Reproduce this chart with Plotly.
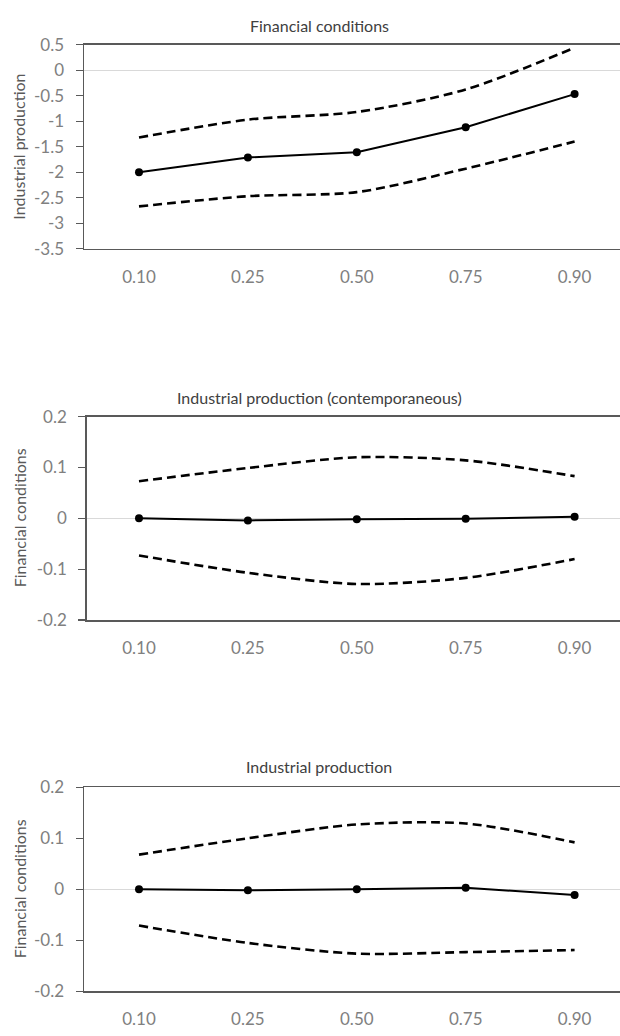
import plotly.graph_objects as go

W, H = 620, 1036

quantiles = ["0.10", "0.25", "0.50", "0.75", "0.90"]

# Panel 1: response of Industrial production to Financial conditions
p1_title = "Financial conditions"
p1_ylabel = "Industrial production"
p1_mid = [-2.00, -1.71, -1.61, -1.12, -0.47]
p1_upper = [-1.32, -0.97, -0.82, -0.38, 0.44]
p1_lower = [-2.67, -2.47, -2.39, -1.93, -1.40]
p1_ticks = [0.5, 0, -0.5, -1, -1.5, -2, -2.5, -3, -3.5]
p1_ticktext = ["0.5", "0", "-0.5", "-1", "-1.5", "-2", "-2.5", "-3", "-3.5"]

# Panel 2
p2_title = "Industrial production (contemporaneous)"
p2_ylabel = "Financial conditions"
p2_mid = [0.000, -0.004, -0.002, -0.001, 0.003]
p2_upper = [0.073, 0.099, 0.120, 0.114, 0.083]
p2_lower = [-0.073, -0.107, -0.129, -0.117, -0.080]

# Panel 3
p3_title = "Industrial production"
p3_ylabel = "Financial conditions"
p3_mid = [0.000, -0.002, 0.000, 0.003, -0.011]
p3_upper = [0.068, 0.100, 0.127, 0.129, 0.092]
p3_lower = [-0.071, -0.105, -0.126, -0.123, -0.119]

small_ticks = [0.2, 0.1, 0, -0.1, -0.2]
small_ticktext = ["0.2", "0.1", "0", "-0.1", "-0.2"]

FONT = "Lato"
AXIS_COL = "#595959"
TICK_COL = "#808080"

# panel geometry in pixels: left, top, bottom, title y
panels = [
    dict(left=84, top=34.3, bottom=242.7, ty=15, mid=p1_mid, up=p1_upper, lo=p1_lower,
         title=p1_title, ylab=p1_ylabel, yr=[-3.5, 0.5], tv=p1_ticks, tt=p1_ticktext),
    dict(left=86.7, top=414, bottom=621.7, ty=395, mid=p2_mid, up=p2_upper, lo=p2_lower,
         title=p2_title, ylab=p2_ylabel, yr=[-0.2, 0.2], tv=small_ticks, tt=small_ticktext),
    dict(left=84, top=792.3, bottom=1000.7, ty=771, mid=p3_mid, up=p3_upper, lo=p3_lower,
         title=p3_title, ylab=p3_ylabel, yr=[-0.2, 0.2], tv=small_ticks, tt=small_ticktext),
]

first_cat_px = 139
spacing = 108.9

fig = go.Figure()
layout = dict(
    width=W, height=H, margin=dict(l=0, r=0, t=0, b=0),
    paper_bgcolor="white", plot_bgcolor="white", showlegend=False,
    font=dict(family=FONT), annotations=[], hovermode=False,
)

for i, p in enumerate(panels, start=1):
    xa = "x" if i == 1 else f"x{i}"
    ya = "y" if i == 1 else f"y{i}"
    for vals in (p["up"], p["lo"]):
        fig.add_trace(go.Scatter(
            x=quantiles, y=vals, xaxis=xa, yaxis=ya, mode="lines",
            line=dict(color="black", width=2.6, dash="9px,5px", shape="spline", smoothing=0.8),
            hoverinfo="skip"))
    fig.add_trace(go.Scatter(
        x=quantiles, y=p["mid"], xaxis=xa, yaxis=ya, mode="lines+markers",
        line=dict(color="black", width=2),
        marker=dict(color="black", size=8)))

    x0 = (p["left"] - first_cat_px) / spacing
    x1 = (W - first_cat_px) / spacing
    xkey = "xaxis" if i == 1 else f"xaxis{i}"
    ykey = "yaxis" if i == 1 else f"yaxis{i}"
    layout[xkey] = dict(
        domain=[p["left"] / W, 1], anchor=ya, type="category",
        range=[x0, x1], showline=True, linecolor=AXIS_COL, linewidth=1.5, mirror=True,
        showgrid=False, zeroline=False, ticks="", ticklabelstandoff=12,
        tickfont=dict(family=FONT, size=17, color=TICK_COL), fixedrange=True)
    layout[ykey] = dict(
        domain=[1 - p["bottom"] / H, 1 - p["top"] / H], anchor=xa,
        range=p["yr"], tickvals=p["tv"], ticktext=p["tt"],
        showline=True, linecolor=AXIS_COL, linewidth=1.5, mirror=False,
        ticks="outside", ticklen=7, tickcolor=AXIS_COL, tickwidth=1.2,
        ticklabelstandoff=8,
        showgrid=False, zeroline=True, zerolinecolor="#d9d9d9", zerolinewidth=1,
        tickfont=dict(family=FONT, size=17, color=TICK_COL), fixedrange=True)
    layout["annotations"].append(dict(
        text=p["title"], xref="paper", yref="paper", x=319 / W, y=1 - p["ty"] / H,
        xanchor="center", yanchor="middle", showarrow=False,
        font=dict(family=FONT, size=16, color="#404040")))
    layout["annotations"].append(dict(
        text=p["ylab"], xref="paper", yref="paper", x=19 / W,
        y=1 - (p["top"] + p["bottom"]) / 2 / H, textangle=-90,
        xanchor="center", yanchor="middle", showarrow=False,
        font=dict(family=FONT, size=16, color="#595959")))

fig.update_layout(**layout)
fig.write_html("out.html", config={"displayModeBar": False, "staticPlot": True},
               post_script="document.body.style.margin='0';")
